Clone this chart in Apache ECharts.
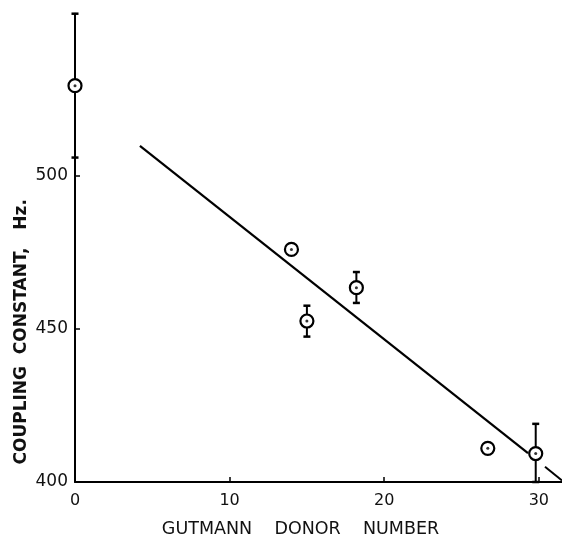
<!DOCTYPE html>
<html>
<head>
<meta charset="utf-8">
<script src="https://cdn.jsdelivr.net/npm/echarts@6/dist/echarts.min.js"></script>
<style>html,body{margin:0;padding:0;background:#fff}#c{width:562px;height:543px}</style>
</head>
<body>
<div id="c"></div>
<script>
// Data
const donorNumbers = [0, 14.0, 15.0, 18.2, 26.7, 29.8];
const couplingConstants = [529.5, 476.0, 452.6, 463.5, 411.0, 409.3];
const errorLow  = [506.0, null, 447.5, 458.5, null, 400.0];
const errorHigh = [553.0, null, 457.6, 468.6, null, 419.0];
const fitLineX = [4.2, 29.3];
const fitLineY = [509.8, 409.4];
const extrapX = [30.4, 31.5];
const extrapY = [405.0, 400.5];
const xTicks = [0, 10, 20, 30];
const yTicks = [400, 450, 500];

const points = donorNumbers.map((x, i) => [x, couplingConstants[i]]);
const bars = donorNumbers.map((x, i) => [x, errorLow[i], errorHigh[i]]).filter(d => d[1] != null);
const fitData = fitLineX.map((x, i) => [x, fitLineY[i]]);
const extrapData = extrapX.map((x, i) => [x, extrapY[i]]);

const chart = echarts.init(document.getElementById('c'));
const font = 'DejaVu Sans';
chart.setOption({
  animation: false,
  backgroundColor: '#fff',
  grid: { left: 75, right: 0, top: 13.7, bottom: 55 },
  xAxis: {
    type: 'value', min: 0, max: 31.5,
    axisLine: { show: true, lineStyle: { color: '#000', width: 2 } },
    axisTick: { show: true, inside: true, length: 5, customValues: xTicks, lineStyle: { color: '#000', width: 1.5 } },
    axisLabel: { customValues: xTicks, margin: 11, color: '#111', fontFamily: font, fontSize: 16 },
    splitLine: { show: false },
    name: 'GUTMANN    DONOR    NUMBER',
    nameLocation: 'middle', nameGap: 38, nameMoveOverlap: false,
    nameTextStyle: { color: '#111', fontFamily: font, fontSize: 17.5, padding: [0, 36, 0, 0] }
  },
  yAxis: {
    type: 'value', min: 400, max: 553,
    axisLine: { show: true, lineStyle: { color: '#000', width: 2 } },
    axisTick: { show: true, inside: true, length: 5, customValues: yTicks, lineStyle: { color: '#000', width: 1.5 } },
    axisLabel: { customValues: yTicks, margin: 7, color: '#111', fontFamily: font, fontSize: 17 },
    splitLine: { show: false },
    name: 'COUPLING  CONSTANT,   Hz.',
    nameLocation: 'middle', nameGap: 45, nameMoveOverlap: false,
    nameTextStyle: { color: '#111', fontFamily: font, fontSize: 17, fontWeight: 'bold', padding: [0, 168, 0, 0] }
  },
  series: [
    { type: 'line', data: fitData, symbol: 'none', lineStyle: { color: '#000', width: 2.2 }, z: 2 },
    { type: 'line', data: extrapData, symbol: 'none', lineStyle: { color: '#000', width: 2 }, z: 2 },
    {
      type: 'custom', data: bars, z: 3,
      renderItem: function (params, api) {
        const x = api.value(0);
        const lo = api.coord([x, api.value(1)]);
        const hi = api.coord([x, api.value(2)]);
        const w = 3.5;
        const st = { stroke: '#000', lineWidth: 2 };
        return { type: 'group', children: [
          { type: 'line', shape: { x1: lo[0], y1: lo[1], x2: hi[0], y2: hi[1] }, style: st },
          { type: 'line', shape: { x1: lo[0] - w, y1: lo[1], x2: lo[0] + w, y2: lo[1] }, style: { stroke: '#000', lineWidth: 2.5 } },
          { type: 'line', shape: { x1: hi[0] - w, y1: hi[1], x2: hi[0] + w, y2: hi[1] }, style: { stroke: '#000', lineWidth: 2.5 } }
        ]};
      }
    },
    { type: 'scatter', data: points, symbol: 'circle', symbolSize: 13, z: 4,
      itemStyle: { color: '#fff', borderColor: '#000', borderWidth: 2.2, opacity: 1 } },
    { type: 'scatter', data: points, symbol: 'circle', symbolSize: 3, z: 5,
      itemStyle: { color: '#000' } }
  ]
});
</script>
</body>
</html>
